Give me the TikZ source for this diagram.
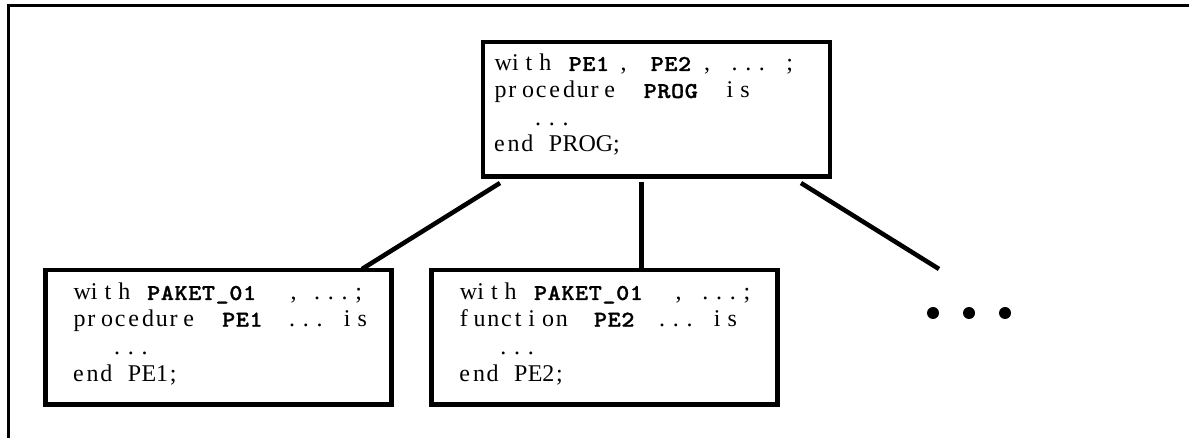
\documentclass[tikz,border=0pt]{standalone}
\usepackage{fontspec}
\setmainfont{Liberation Serif}
\newfontfamily\idfont{lmmonolt10-bold.otf}[FakeStretch=1.1,FakeBold=1.2]
\usetikzlibrary{calc}

% one pixel of the drawing grid
\newlength\pxu \setlength\pxu{0.75pt}
% character pitch of the listing grid
\newlength\cellw \setlength\cellw{10.275pt}

% set a string on the fixed character grid (use ~ for a blank);
% a glyph wider than one cell keeps its own width
\newcommand\gridend{GRIDEND}
\newsavebox\gridbox
\newcommand\gridcell[1]{\sbox\gridbox{#1}%
  \ifdim\wd\gridbox>\cellw\usebox\gridbox\else\makebox[\cellw][l]{\usebox\gridbox}\fi}
\def\gridtext#1{\gridloop#1\gridend}
\def\gridloop#1{\ifx#1\gridend\else\gridcell{#1}\expandafter\gridloop\fi}
% bold identifier on the same grid
\newcommand\idf[1]{{\idfont\fontsize{17pt}{18pt}\selectfont\gridtext{#1}}}
% place a piece of a line at a horizontal offset (in pixels)
\newcommand\at[2]{\makebox[0pt][l]{\hspace*{#1\pxu}#2}}

\begin{document}
\begin{tikzpicture}[x=0.75pt,y=-0.75pt,
  frame/.style={line width=2pt},
  box/.style={draw,line width=3.6pt,inner sep=0pt,outer sep=0pt,fill=none},
  link/.style={line width=3.4pt},
  txt/.style={anchor=base west,inner sep=0pt,outer sep=0pt,
    font=\fontsize{18pt}{20pt}\selectfont},
  dot/.style={circle,fill=black,inner sep=0pt,minimum size=9pt}]
\useasboundingbox (0,0) rectangle (1189,438);

% surrounding frame
\draw[frame] (8.7,438) -- (8.7,5.3) -- (1189,5.3);

% program units
\node[box,minimum width=260.25pt,minimum height=100.9pt] (top) at (656.5,109.25) {};
\node[box,minimum width=259.5pt,minimum height=101pt] (b1) at (218.3,337.35) {};
\node[box,minimum width=259.5pt,minimum height=101pt] (b2) at (604.2,337.35) {};

% main program text
\node[txt] (top-l1) at (494,71) {\at{0}{\gridtext{with}}\at{74}{\idf{PE1}}\at{126}{\gridtext{,}}\at{156}{\idf{PE2}}\at{209.5}{\gridtext{,~...~;}}};
\node[txt] (top-l2) at (494,98) {\at{0}{\gridtext{procedure}}\at{149}{\idf{PROG}}\at{232}{\gridtext{is}}};
\node[txt] (top-l3) at (494,126) {\gridtext{~~~...}};
\node[txt] (top-l4) at (494,152) {\gridtext{end~PROG;}};

% first unit
\node[txt] (b1-l1) at (73,300) {\at{0}{\gridtext{with}}\at{73.5}{\idf{PAKET\_01}}\at{217}{\gridtext{,}}\at{240.5}{\gridtext{...;}}};
\node[txt] (b1-l2) at (73,326.7) {\at{0}{\gridtext{procedure}}\at{148.5}{\idf{PE1}}\at{215.5}{\gridtext{...~is}}};
\node[txt] (b1-l3) at (73,354) {\gridtext{~~~...}};
\node[txt] (b1-l4) at (73,381.7) {\gridtext{end~PE1;}};

% second unit
\node[txt] (b2-l1) at (459.3,300) {\at{0}{\gridtext{with}}\at{74}{\idf{PAKET\_01}}\at{215.7}{\gridtext{,}}\at{242.5}{\gridtext{...;}}};
\node[txt] (b2-l2) at (459.3,326.7) {\at{0}{\gridtext{function}}\at{134}{\idf{PE2}}\at{199.2}{\gridtext{...~is}}};
\node[txt] (b2-l3) at (459.3,354) {\gridtext{~~~...}};
\node[txt] (b2-l4) at (459.3,381.7) {\gridtext{end~PE2;}};

% dependency lines
\coordinate (c1) at ($(top.south west)+(17,6.5)$);
\coordinate (c2) at ($(top.south west)+(158.7,5.5)$);
\coordinate (c3) at ($(top.south west)+(318,6.5)$);
\coordinate (c3end) at (939,269);
\draw[link] (c1) -- ($(b1.north west)+(316.7,-1)$);
\draw[link] (c2) -- ($(b2.north west)+(210.5,0)$);
\draw[link] (c3) -- (c3end);

% further units
\node[dot] (d1) at (933,313) {};
\node[dot] (d2) at (969,313) {};
\node[dot] (d3) at (1005,313) {};
\end{tikzpicture}
\end{document}
